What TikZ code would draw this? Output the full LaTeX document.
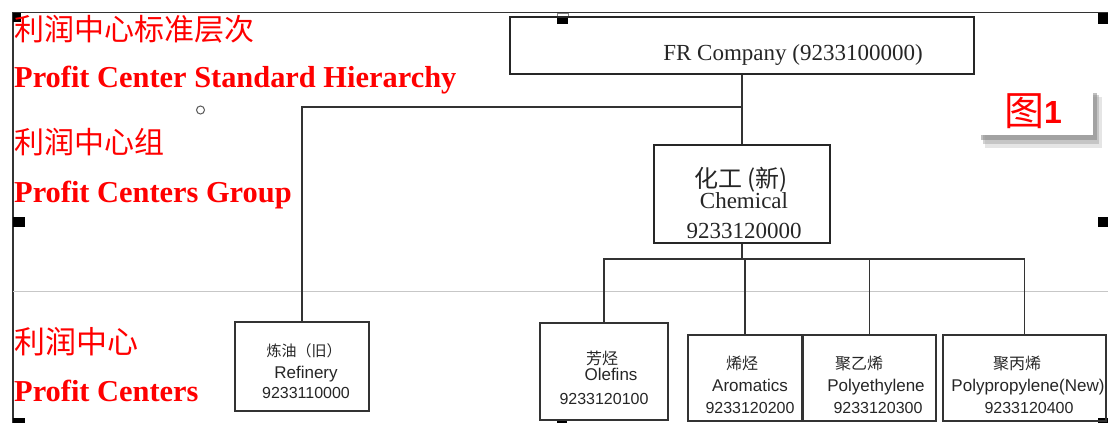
\documentclass[tikz,border=0pt]{standalone}
\usepackage{fontspec}
\setmainfont{Liberation Serif}
\newfontfamily\sansf{Liberation Sans}
\newfontfamily\cjk{Noto Sans CJK SC}
\newcommand{\fsz}[1]{\fontsize{#1}{#1}\selectfont}
\begin{document}
\begin{tikzpicture}[x=1pt,y=-1pt,
  redlab/.style={text=red, inner sep=0pt, anchor=base west, font=\bfseries},
  redcjk/.style={text=red, inner sep=0pt, anchor=base west},
  bigbox/.style={draw=black!85, line width=2.2pt, inner sep=0pt},
  smallbox/.style={draw=black!80, line width=1.6pt, inner sep=0pt},
  conn/.style={draw=black!80, line width=1.6pt},
  boxtxt/.style={inner sep=0pt, anchor=base, text=black!85},
  handlebox/.style={fill=black}]
\useasboundingbox (0,0) rectangle (1108,423);
\fill[white] (0,0) rectangle (1108,423);
% frame and separator
\draw[line width=1.5pt, black!80] (13,423) -- (13,12.5) -- (1108,12.5);
\draw[line width=1pt, black!22] (13,291.5) -- (1108,291.5);
% selection handles
\fill[handlebox] (13,13) rectangle (21,22);
\fill[handlebox] (13,217) rectangle (25,227);
\fill[handlebox] (13,418) rectangle (25,423);
\fill[handlebox] (557,17) rectangle (568,24);
\draw[black!50, line width=0.8pt] (557,13) rectangle (568,17);
\fill[handlebox] (1098,13) rectangle (1108,24);
\fill[handlebox] (1098,217) rectangle (1108,227);
\fill[handlebox] (1098,418) rectangle (1108,423);
\fill[handlebox] (557,419) rectangle (567,423);
% small circle
\draw[black!65, line width=1pt] (200.5,110) circle (4);
% left labels
\node[redcjk] (l1) at (14,40) {\cjk\fsz{30}利润中心标准层次};
\node[redlab] (l2) at (14,87) {\fsz{30.4}Profit Center Standard Hierarchy};
\node[redcjk] (l3) at (14,153) {\cjk\fsz{30}利润中心组};
\node[redlab] (l4) at (14,202) {\fsz{30.4}Profit Centers Group};
\node[redcjk] (l5) at (14,353) {\cjk\fsz{31}利润中心};
\node[redlab] (l6) at (14,401) {\fsz{30.4}Profit Centers};
% figure tag with shadow
\fill[black!20, opacity=0.5] (985,97) rectangle (1102,148);
\fill[black!35, opacity=0.5] (983,95) rectangle (1099,144);
\fill[black!50, opacity=0.5] (981,93) rectangle (1097,140);
\fill[white] (975,88) rectangle (1093,135);
\node[redcjk] (tag1) at (1004,125) {\cjk\fsz{40}图};
\node[redcjk] (tag2) at (1044,123) {\sansf\bfseries\fsz{32}1};
% boxes
\node[bigbox, minimum width=464pt, minimum height=57pt] (fr) at (742,45.5) {};
\node[bigbox, minimum width=176pt, minimum height=98pt] (chem) at (742,194) {};
\node[smallbox, minimum width=134pt, minimum height=89pt] (ref) at (302,366.5) {};
\node[smallbox, minimum width=128pt, minimum height=97pt] (ole) at (604,371.5) {};
\node[smallbox, minimum width=114pt, minimum height=86pt] (aro) at (745,378) {};
\node[smallbox, minimum width=133pt, minimum height=86pt] (pe) at (869.5,378) {};
\node[smallbox, minimum width=163pt, minimum height=86pt] (pp) at (1024.5,378) {};
% box texts
\node[boxtxt] (frt) at (793,60) {\fsz{23}FR Company (9233100000)};
\node[boxtxt] (ch1) at (741,187) {\cjk\fsz{24}化工 (新)};
\node[boxtxt] (ch2) at (744,208) {\fsz{23}Chemical};
\node[boxtxt] (ch3) at (744,238) {\fsz{23}9233120000};
\node[boxtxt] (rf1) at (304,356) {\cjk\fsz{15}炼油（旧）};
\node[boxtxt] (rf2) at (306,378) {\sansf\fsz{17}Refinery};
\node[boxtxt] (rf3) at (306,398) {\sansf\fsz{16}9233110000};
\node[boxtxt] (ol1) at (602,364) {\cjk\fsz{16}芳烃};
\node[boxtxt] (ol2) at (611,380) {\sansf\fsz{17}Olefins};
\node[boxtxt] (ol3) at (604,404) {\sansf\fsz{16}9233120100};
\node[boxtxt] (ar1) at (742,369) {\cjk\fsz{16}烯烃};
\node[boxtxt] (ar2) at (750,391) {\sansf\fsz{17}Aromatics};
\node[boxtxt] (ar3) at (750,413) {\sansf\fsz{16}9233120200};
\node[boxtxt] (pe1) at (859,369) {\cjk\fsz{16}聚乙烯};
\node[boxtxt] (pe2) at (876,391) {\sansf\fsz{17}Polyethylene};
\node[boxtxt] (pe3) at (878,413) {\sansf\fsz{16}9233120300};
\node[boxtxt] (pp1) at (1017,369) {\cjk\fsz{16}聚丙烯};
\node[boxtxt] (pp2) at (1028,391) {\sansf\fsz{17}Polypropylene(New)};
\node[boxtxt] (pp3) at (1029,413) {\sansf\fsz{16}9233120400};
% connectors
\coordinate (j1) at (742,107);
\coordinate (j2) at (742,259);
\draw[conn] (fr.south) -- (chem.north);
\draw[conn] (ref.north) |- (j1);
\draw[conn] (chem.south) -- (j2);
\draw[conn] (ole.north) |- (j2);
\draw[conn] (pp.north) |- (j2);
\draw[conn] (aro.north) -- (aro.north |- j2);
\draw[conn] (pe.north) -- (pe.north |- j2);
\end{tikzpicture}
\end{document}
